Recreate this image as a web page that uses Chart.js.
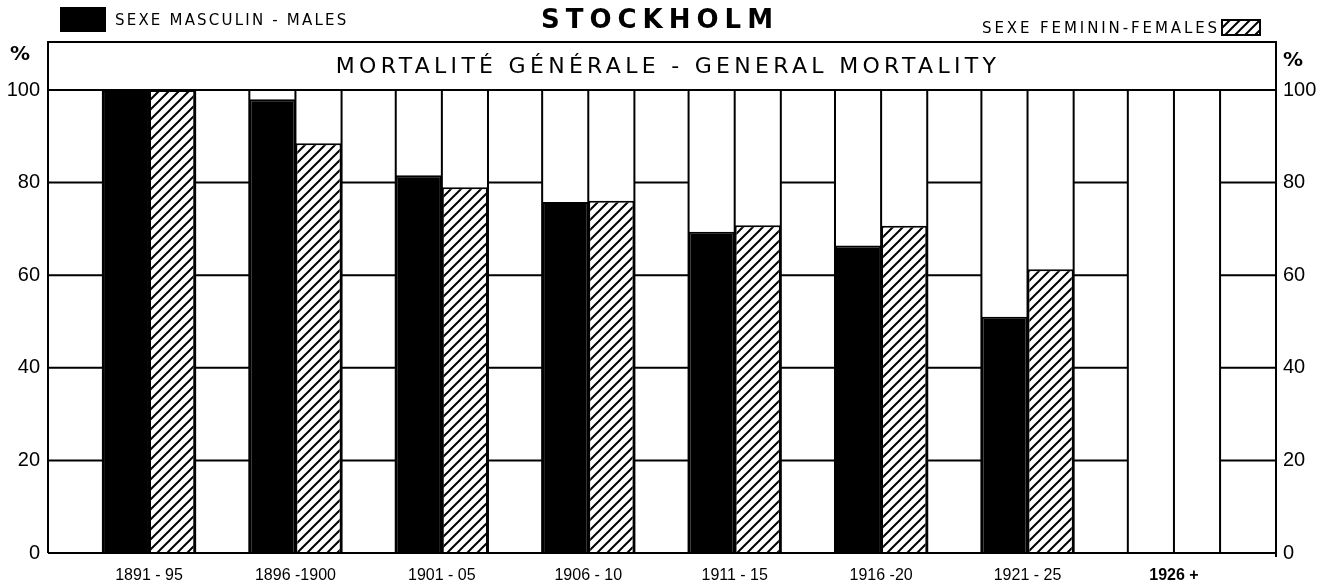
<!DOCTYPE html>
<html>
<head>
<meta charset="utf-8">
<script src="https://cdn.jsdelivr.net/npm/chart.js@4.4.1/dist/chart.umd.min.js"></script>
<style>
  html, body { margin: 0; padding: 0; background: #fff; }
  #wrap { width: 1320px; height: 588px; }
</style>
</head>
<body>
<div id="wrap"><canvas id="chart"></canvas></div>
<script>
// Stockholm - general mortality, % (males / females) by period
const periods = ['1891 - 95', '1896 -1900', '1901 - 05', '1906 - 10', '1911 - 15', '1916 -20', '1921 - 25', '1926 +'];
const males   = [100, 98, 81.6, 75.8, 69.4, 66.4, 51.0, null];
const females = [100, 88.5, 79.0, 76.1, 70.8, 70.7, 61.3, null];
const yTicks  = [0, 20, 40, 60, 80, 100];

const INK = '#000';
const groupShare = 0.63;   // part of each period taken by the two bars
const DIGITS = "'Liberation Sans Narrow', 'Liberation Sans', sans-serif";
const LETTERS = "'DejaVu Sans', sans-serif";

// diagonal hatch for the female bars
function hatch() {
    const c = document.createElement('canvas');
    c.width = 10; c.height = 10;
    const g = c.getContext('2d');
    g.fillStyle = '#fff';
    g.fillRect(0, 0, 10, 10);
    g.strokeStyle = INK;
    g.lineWidth = 2;
    g.beginPath();
    g.moveTo(-2, 12); g.lineTo(12, -2);
    g.moveTo(-7, 7);  g.lineTo(7, -7);
    g.moveTo(3, 17);  g.lineTo(17, 3);
    g.stroke();
    return g.createPattern(c, 'repeat');
}
const HATCH = hatch();

// column boundaries taken from the x scale
function columnEdges(x, a) {
    const all = [a.left];
    const gaps = [];
    let prev = a.left;
    periods.forEach((p, i) => {
        const c = x.getPixelForValue(i + 1);
        const half = (x.getPixelForValue(i + 2) - c) * groupShare / 2;
        gaps.push([prev, c - half]);
        all.push(c - half, c, c + half);
        prev = c + half;
    });
    gaps.push([prev, a.right]);
    all.push(a.right);
    return { all, gaps };
}

function spaced(ctx, px) {
    if ('letterSpacing' in ctx) ctx.letterSpacing = px + 'px';
}

const columnGrid = {
    id: 'columnGrid',
    beforeDatasetsDraw(chart) {
        const { ctx, chartArea: a, scales: { x, y } } = chart;
        const edges = columnEdges(x, a);
        ctx.save();
        ctx.strokeStyle = INK;
        ctx.lineWidth = 2;
        ctx.beginPath();
        edges.all.forEach(px => {
            ctx.moveTo(px, a.top);
            ctx.lineTo(px, a.bottom);
        });
        edges.gaps.forEach(([l, r]) => {
            yTicks.slice(1, -1).forEach(v => {
                const py = y.getPixelForValue(v);
                ctx.moveTo(l, py);
                ctx.lineTo(r, py);
            });
        });
        ctx.stroke();
        ctx.restore();
    },
    afterDraw(chart) {
        const { ctx, chartArea: a } = chart;
        const boxTop = 42;
        ctx.save();
        ctx.strokeStyle = INK;
        ctx.fillStyle = INK;
        ctx.lineWidth = 2;

        // frame + title box
        ctx.beginPath();
        ctx.moveTo(a.left, a.bottom); ctx.lineTo(a.left, boxTop);
        ctx.lineTo(a.right, boxTop); ctx.lineTo(a.right, a.bottom + 4);
        ctx.moveTo(a.left, a.top); ctx.lineTo(a.right, a.top);
        ctx.moveTo(a.left, a.bottom); ctx.lineTo(a.right, a.bottom);
        ctx.stroke();

        ctx.textBaseline = 'middle';

        // box caption
        ctx.textAlign = 'center';
        ctx.font = "22px " + LETTERS;
        spaced(ctx, 4.3);
        ctx.fillText('MORTALITÉ GÉNÉRALE - GENERAL MORTALITY', (a.left + a.right) / 2 + 6, 67);

        // city
        ctx.font = "bold 26px " + LETTERS;
        spaced(ctx, 6);
        ctx.fillText('STOCKHOLM', 660, 21);

        // legend: males
        ctx.textAlign = 'left';
        ctx.fillRect(60, 7, 46, 25);
        ctx.font = "15px " + LETTERS;
        spaced(ctx, 2.2);
        ctx.fillText('SEXE MASCULIN - MALES', 115, 21);

        // legend: females
        ctx.textAlign = 'right';
        spaced(ctx, 2.9);
        ctx.fillText('SEXE FEMININ-FEMALES', 1220, 29);
        ctx.fillStyle = HATCH;
        ctx.fillRect(1222, 20, 38, 15);
        ctx.strokeRect(1222, 20, 38, 15);

        // percent signs
        ctx.fillStyle = INK;
        spaced(ctx, 0);
        ctx.font = "bold 20px " + LETTERS;
        ctx.textAlign = 'center';
        ctx.fillText('%', 20, 55);
        ctx.fillText('%', 1293, 61);
        ctx.restore();
    }
};

const yTickOpts = {
    stepSize: 20,
    color: INK,
    font: { family: DIGITS, size: 20 }
};
const noGrid = { display: false, drawTicks: false, tickLength: 0 };

new Chart(document.getElementById('chart'), {
    type: 'bar',
    data: {
        datasets: [
            {
                label: 'SEXE MASCULIN - MALES',
                data: males.map((v, i) => ({ x: i + 1, y: v })),
                backgroundColor: INK,
                borderColor: INK,
                borderWidth: 2
            },
            {
                label: 'SEXE FEMININ-FEMALES',
                data: females.map((v, i) => ({ x: i + 1, y: v })),
                backgroundColor: HATCH,
                borderColor: INK,
                borderWidth: 2
            }
        ]
    },
    options: {
        responsive: true,
        maintainAspectRatio: false,
        animation: false,
        categoryPercentage: groupShare,
        barPercentage: 1,
        layout: { padding: { top: 90, left: 0, right: 0, bottom: 0 } },
        plugins: {
            legend: { display: false },
            tooltip: { enabled: false },
            title: { display: false }
        },
        scales: {
            x: {
                type: 'linear',
                offset: false,
                min: 0.31,
                max: 8.697,
                grid: noGrid,
                border: { display: false },
                afterFit: s => { s.height = 35; },
                ticks: {
                    stepSize: 1,
                    includeBounds: false,
                    autoSkip: false,
                    maxRotation: 0,
                    padding: 13,
                    color: INK,
                    font: c => ({
                        family: DIGITS,
                        size: 16,
                        weight: c.tick && c.tick.value === periods.length ? 'bold' : 'normal'
                    }),
                    callback: v => periods[v - 1] || ''
                }
            },
            y: {
                position: 'left',
                min: 0,
                max: 100,
                grid: noGrid,
                border: { display: false },
                afterFit: s => { s.width = 48; },
                ticks: { ...yTickOpts, padding: 8 }
            },
            y2: {
                position: 'right',
                min: 0,
                max: 100,
                grid: noGrid,
                border: { display: false },
                afterFit: s => { s.width = 44; },
                ticks: { ...yTickOpts, padding: 7 }
            }
        }
    },
    plugins: [columnGrid]
});
</script>
</body>
</html>
